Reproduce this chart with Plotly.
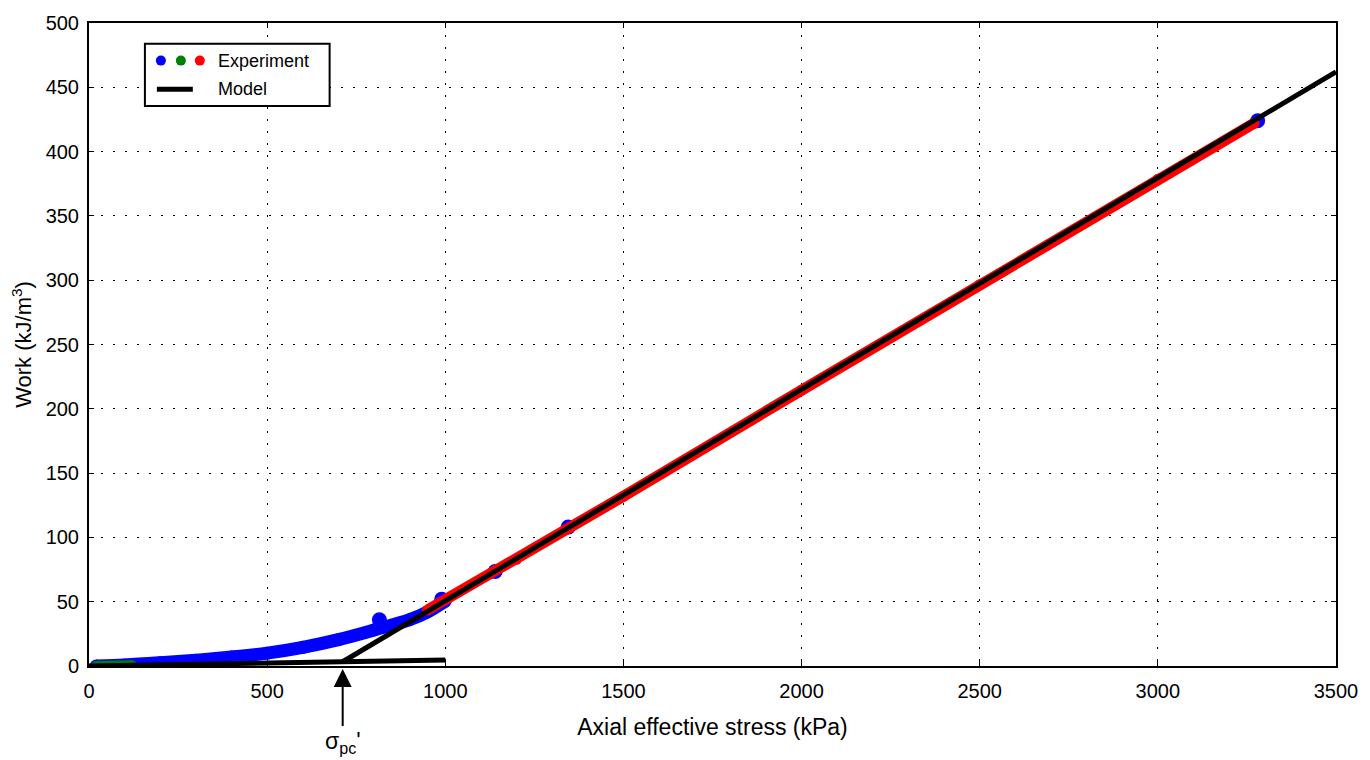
import plotly.graph_objects as go

# Experiment data
blue_x = [20, 100, 200, 300, 400, 500, 600, 700, 800, 900, 950, 1000]
blue_y = [0, 0.8, 2.5, 4.5, 7, 10, 14.5, 20.5, 28, 36, 42, 50.5]
blob_x = [815, 990, 1140, 1345, 3280]
blob_y = [36, 52, 73.5, 108, 424]
green_x = [20, 60, 120]
green_y = [0, 0.2, 0.5]
red_x = [950, 1200, 1500, 2000, 2500, 3000, 3270]
red_y = [43.5, 83, 132, 214.5, 296.5, 378.5, 422]

# Model lines
model1_x = [0, 1000]
model1_y = [0, 4.7]
model2_x = [712, 3500]
model2_y = [3.3, 462]
sigma_pc = 712

x_ticks = [0, 500, 1000, 1500, 2000, 2500, 3000, 3500]
y_ticks = [0, 50, 100, 150, 200, 250, 300, 350, 400, 450, 500]

FONT = "Liberation Sans, Arial, Helvetica, sans-serif"

fig = go.Figure()
fig.add_trace(go.Scatter(x=blue_x, y=blue_y, mode="lines+markers", line_shape="spline",
                         line=dict(color="#0000ff", width=13),
                         marker=dict(color="#0000ff", size=13), showlegend=False))
fig.add_trace(go.Scatter(x=blob_x, y=blob_y, mode="markers",
                         marker=dict(color="#0000ff", size=15), showlegend=False))
fig.add_trace(go.Scatter(x=green_x, y=green_y, mode="lines+markers",
                         line=dict(color="#008000", width=10),
                         marker=dict(color="#008000", size=10), showlegend=False))
fig.add_trace(go.Scatter(x=red_x, y=red_y, mode="lines+markers",
                         line=dict(color="#ff0000", width=11),
                         marker=dict(color="#ff0000", size=11), showlegend=False))
fig.add_trace(go.Scatter(x=model1_x, y=model1_y, mode="lines",
                         line=dict(color="black", width=5), showlegend=False))
fig.add_trace(go.Scatter(x=model2_x, y=model2_y, mode="lines",
                         line=dict(color="black", width=5), showlegend=False))

axis_common = dict(
    showline=True, linecolor="black", linewidth=2, mirror="ticks",
    ticks="inside", ticklen=5, tickcolor="black", tickwidth=1,
    showgrid=True, gridcolor="black", gridwidth=1, griddash="2px,10px",
    zeroline=False, tickfont=dict(family=FONT, size=20, color="black"),
)

fig.update_layout(
    width=1370, height=760,
    margin=dict(l=89, r=32, t=16, b=94),
    plot_bgcolor="white", paper_bgcolor="white",
    font=dict(family=FONT, color="black"),
    xaxis=dict(range=[0, 3500], tickvals=x_ticks, ticklabelstandoff=6,
               title=dict(text="Axial effective stress (kPa)", font=dict(size=23), standoff=18),
               **axis_common),
    yaxis=dict(range=[0, 500], tickvals=y_ticks, ticklabelstandoff=4,
               title=dict(text="Work (kJ/m<sup>3</sup>)", font=dict(size=22), standoff=8),
               **axis_common),
)

# sigma_pc' arrow annotation
fig.add_annotation(x=sigma_pc, y=0, xref="x", yref="y",
                   text="σ<sub>pc</sub>'", showarrow=True, arrowhead=2, arrowsize=1.8,
                   arrowwidth=2, arrowcolor="black", ax=0, ay=76, standoff=3,
                   font=dict(family=FONT, size=23, color="black"))

# Custom legend (paper coordinates)
def px2x(px):
    return (px - 89) / 1249
def py2y(py):
    return (666 - py) / 650

fig.add_shape(type="rect", xref="paper", yref="paper",
              x0=px2x(145), x1=px2x(330), y0=py2y(100), y1=py2y(37),
              line=dict(color="black", width=2), fillcolor="white", layer="above")
for cx, col in [(161, "#0000ff"), (181, "#008000"), (200, "#ff0000")]:
    fig.add_shape(type="circle", xref="paper", yref="paper",
                  xsizemode="pixel", ysizemode="pixel",
                  xanchor=px2x(cx), yanchor=py2y(54),
                  x0=-5, x1=5, y0=-5, y1=5,
                  line=dict(color=col, width=0), fillcolor=col, layer="above")
fig.add_shape(type="line", xref="paper", yref="paper",
              x0=px2x(157), x1=px2x(193), y0=py2y(83), y1=py2y(83),
              line=dict(color="black", width=5), layer="above")
fig.add_annotation(x=px2x(216), y=py2y(54), xref="paper", yref="paper",
                   text="Experiment", showarrow=False, xanchor="left", yanchor="middle",
                   font=dict(family=FONT, size=18, color="black"))
fig.add_annotation(x=px2x(216), y=py2y(83), xref="paper", yref="paper",
                   text="Model", showarrow=False, xanchor="left", yanchor="middle",
                   font=dict(family=FONT, size=18, color="black"))

fig.write_html("out.html")
